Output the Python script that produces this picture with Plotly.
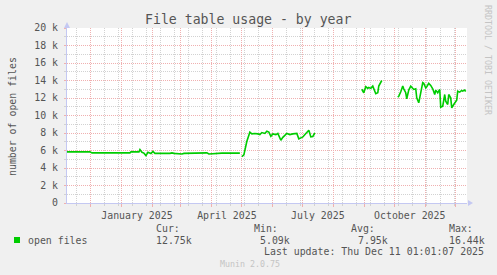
import plotly.graph_objects as go

# ---------------- data ----------------
dates = [
    # segment 1
    "2024-11-07", "2024-11-30", "2024-12-02", "2025-01-09", "2025-01-10", "2025-01-18",
    "2025-01-19", "2025-01-21", "2025-01-23", "2025-01-25", "2025-01-27", "2025-01-30",
    "2025-02-01", "2025-02-03", "2025-02-18", "2025-02-20", "2025-02-22", "2025-03-02",
    "2025-03-04", "2025-03-27", "2025-03-29", "2025-04-05", "2025-04-11", "2025-04-29",
    "2025-04-30",
    # segment 2
    "2025-05-01", "2025-05-03", "2025-05-06", "2025-05-09", "2025-05-11", "2025-05-14",
    "2025-05-17", "2025-05-19", "2025-05-21", "2025-05-24", "2025-05-26", "2025-05-28",
    "2025-05-30", "2025-06-01", "2025-06-04", "2025-06-06", "2025-06-09", "2025-06-11",
    "2025-06-15", "2025-06-18", "2025-06-21", "2025-06-23", "2025-06-25", "2025-06-27",
    "2025-07-01", "2025-07-04", "2025-07-07", "2025-07-09", "2025-07-11", "2025-07-13",
    "2025-07-14",
    # segment 3
    "2025-08-29", "2025-08-31", "2025-09-02", "2025-09-04", "2025-09-05", "2025-09-07",
    "2025-09-09", "2025-09-10", "2025-09-12", "2025-09-14", "2025-09-15", "2025-09-18",
    "2025-09-19",
    # segment 4
    "2025-10-04", "2025-10-05", "2025-10-07", "2025-10-09", "2025-10-10", "2025-10-12",
    "2025-10-13", "2025-10-15", "2025-10-17", "2025-10-19", "2025-10-20", "2025-10-22",
    "2025-10-23", "2025-10-25", "2025-10-27", "2025-10-29", "2025-10-30", "2025-11-01",
    "2025-11-02", "2025-11-04", "2025-11-06", "2025-11-08", "2025-11-10", "2025-11-11",
    "2025-11-13", "2025-11-15", "2025-11-16", "2025-11-18", "2025-11-20", "2025-11-21",
    "2025-11-23", "2025-11-24", "2025-11-26", "2025-11-27", "2025-11-29", "2025-11-30",
    "2025-12-02", "2025-12-03", "2025-12-05", "2025-12-07", "2025-12-08", "2025-12-10",
    "2025-12-11",
]

open_files = [
    # segment 1
    5840, 5840, 5730, 5730, 5840, 5840,
    6100, 5800, 5700, 5420, 5800, 5650,
    5900, 5670, 5670, 5730, 5670, 5600,
    5670, 5730, 5600, 5650, 5700, 5700,
    None,
    # segment 2
    5300, 5500, 7060, 8090, 7900, 7950,
    7900, 7820, 8050, 7950, 8200, 8100,
    7630, 7900, 7820, 7950, 7170, 7500,
    7950, 7820, 7900, 7950, 7950, 7330,
    7550, 7950, 8320, 7560, 7600, 8000,
    None,
    # segment 3
    13000, 12600, 13290, 13100, 13200, 13100,
    13360, 13050, 12490, 12600, 13360, 14000,
    None,
    # segment 4
    12100, 12200, 12710, 13360, 13050, 12600,
    11910, 12900, 13360, 13170, 12980, 13050,
    12020, 11450, 12600, 13750, 13670, 13170,
    13290, 13670, 13440, 13050, 12400, 12900,
    12600, 12980, 10950, 11070, 12400, 11640,
    11260, 12400, 12020, 10880, 11260, 11450,
    11760, 12780, 12670, 12860, 12780, 12900,
    12750,
]

y_tick_vals = [0, 2000, 4000, 6000, 8000, 10000, 12000, 14000, 16000, 18000, 20000]
y_tick_text = ["0", "2 k", "4 k", "6 k", "8 k", "10 k", "12 k", "14 k", "16 k", "18 k", "20 k"]

x_label_dates = ["2025-01-16", "2025-04-16", "2025-07-16", "2025-10-16"]
x_label_text = ["January 2025", "April 2025", "July 2025", "October 2025"]
month_starts = ["2024-12-01", "2025-01-01", "2025-02-01", "2025-03-01", "2025-04-01",
                "2025-05-01", "2025-06-01", "2025-07-01", "2025-08-01", "2025-09-01",
                "2025-10-01", "2025-11-01", "2025-12-01"]
x_range = ["2024-11-07", "2025-12-12 07:00"]

title_text = "File table usage - by year"
y_title = "number of open files"
legend_name = "open files"
stat_labels = ["Cur:", "Min:", "Avg:", "Max:"]
stat_values = ["12.75k", "5.09k", "7.95k", "16.44k"]
last_update = "Last update: Thu Dec 11 01:01:07 2025"
side_text = "RRDTOOL / TOBI OETIKER"
footer = "Munin 2.0.75"

# ---------------- layout helpers ----------------
W, H = 497, 275
ML, MR, MT, MB = 67, 30, 28, 72
PW = W - ML - MR
PH = H - MT - MB

def px(x):
    return (x - ML) / PW

def py(y):
    return (H - MB - y) / PH

FONT = "DejaVu Sans Mono"
TXT = "#555555"
RED = "#F0B0B0"
GRAY = "#D2D2D2"
AXIS = "#C4C8F2"
GREEN = "#00CC00"

fig = go.Figure()
# empty traces to hold the grid axes
fig.add_trace(go.Scatter(x=[], y=[], xaxis="x2", yaxis="y", showlegend=False))
fig.add_trace(go.Scatter(x=[], y=[], xaxis="x3", yaxis="y", showlegend=False))
fig.add_trace(go.Scatter(
    x=dates, y=open_files, mode="lines", connectgaps=False,
    line=dict(color=GREEN, width=1.6), showlegend=False, hoverinfo="skip",
    xaxis="x", yaxis="y",
))

fig.update_layout(
    width=W, height=H,
    margin=dict(l=ML, r=MR, t=MT, b=MB, pad=0),
    paper_bgcolor="#F0F0F0",
    plot_bgcolor="#FFFFFF",
    font=dict(family=FONT, size=9.9, color=TXT),
    showlegend=False,
    xaxis=dict(
        type="date", range=x_range,
        tickmode="array", tickvals=x_label_dates, ticktext=x_label_text,
        showgrid=False, ticks="", zeroline=False,
        showline=True, linecolor=AXIS, linewidth=1,
        tickfont=dict(family=FONT, size=9.9, color=TXT),
        ticklabelstandoff=3,
    ),
    xaxis2=dict(
        type="date", range=x_range, overlaying="x", anchor="y", side="bottom",
        tick0="2024-11-17", dtick=14 * 86400000,
        showgrid=True, gridcolor=GRAY, griddash="1px,1px", gridwidth=1,
        ticks="outside", ticklen=2, tickcolor=GRAY,
        showticklabels=False, zeroline=False, showline=False,
    ),
    xaxis3=dict(
        type="date", range=x_range, overlaying="x", anchor="y", side="bottom",
        tickmode="array", tickvals=month_starts,
        showgrid=True, gridcolor=RED, griddash="1px,1px", gridwidth=1,
        ticks="outside", ticklen=3, tickcolor=RED,
        showticklabels=False, zeroline=False, showline=False,
    ),
    yaxis=dict(
        range=[0, 20000], tickmode="array", tickvals=y_tick_vals, ticktext=y_tick_text,
        showgrid=True, gridcolor=RED, griddash="1px,1px", gridwidth=1,
        ticks="outside", ticklen=2, tickcolor=RED,
        zeroline=False, showline=True, linecolor=AXIS, linewidth=1,
        tickfont=dict(family=FONT, size=9.9, color=TXT),
        ticklabelstandoff=4,
        minor=dict(dtick=1000, showgrid=True, gridcolor=GRAY, griddash="1px,1px",
                   gridwidth=1, ticks="outside", ticklen=2, tickcolor=GRAY),
    ),
)

# axis arrows
fig.add_shape(type="path", xref="paper", yref="paper",
              xsizemode="pixel", ysizemode="pixel", xanchor=0, yanchor=1,
              path="M -3 0 L 3 0 L 0 6 Z", fillcolor=AXIS, line=dict(width=0))
fig.add_shape(type="path", xref="paper", yref="paper",
              xsizemode="pixel", ysizemode="pixel", xanchor=1, yanchor=0,
              path="M 1 -3 L 1 3 L 6 0 Z", fillcolor=AXIS, line=dict(width=0))
# legend swatch
fig.add_shape(type="rect", xref="paper", yref="paper",
              x0=px(14), x1=px(20), y0=py(243), y1=py(237),
              fillcolor=GREEN, line=dict(width=0))

def ann(text, x, y, size=9.9, color=TXT, xanchor="left", angle=0):
    fig.add_annotation(text=text, x=px(x), y=py(y), xref="paper", yref="paper",
                       xanchor=xanchor, yanchor="middle", showarrow=False,
                       textangle=angle, font=dict(family=FONT, size=size, color=color))

ann(title_text, 247.7, 19, size=13.2, xanchor="center")
ann(y_title, 12, 116, xanchor="center", angle=-90)
ann(side_text, 488, 60, size=8.3, color="#C4C4C4", xanchor="center", angle=90)
ann(legend_name, 26, 240)
stat_label_x = [154, 252, 349.3, 447]
stat_value_x = [154, 257.7, 356, 447]
for lab, val, lx, vx in zip(stat_labels, stat_values, stat_label_x, stat_value_x):
    ann(lab, lx, 228)
    ann(val, vx, 240)
ann(last_update, 262, 251)
ann(footer, 218, 264.3, size=8.3, color="#C4C4C4")

fig.write_html("out.html")
